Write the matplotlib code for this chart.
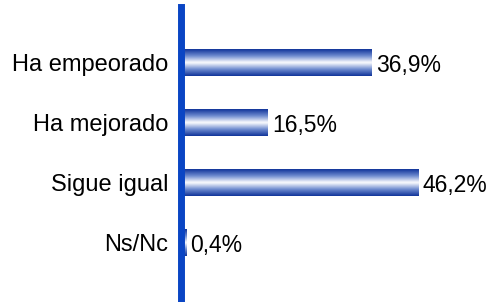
import numpy as np
import matplotlib.pyplot as plt
from matplotlib.colors import LinearSegmentedColormap

plt.rcParams['font.family'] = ['Liberation Sans', 'DejaVu Sans']

categories = ['Ha empeorado', 'Ha mejorado', 'Sigue igual', 'Ns/Nc']
values = [36.9, 16.5, 46.2, 0.4]
value_labels = ['36,9%', '16,5%', '46,2%', '0,4%']

fig = plt.figure(figsize=(4.86, 3.02), dpi=100)
left = 184 / 486
ax = fig.add_axes([left, 0, 1 - left, 1 - 7 / 302])

# left axis line sits a little outside the bars' origin
for s in ['top', 'right', 'bottom']:
    ax.spines[s].set_visible(False)
ax.spines['left'].set_position(('outward', 2.5))
ax.spines['left'].set_color('#0a45c4')
ax.spines['left'].set_linewidth(5)
ax.spines['left'].set_zorder(5)

cmap = LinearSegmentedColormap.from_list(
    'bar', ['#12359a', '#6f8cd0', '#ffffff', '#6f8cd0', '#12359a'])
grad = np.linspace(0, 1, 64).reshape(-1, 1)

ypos = np.arange(len(categories))
bars = ax.barh(ypos, values, height=0.45, color='none', edgecolor='none')
for bar, val, lab in zip(bars, values, value_labels):
    x0, y0 = bar.get_x(), bar.get_y()
    w, h = bar.get_width(), bar.get_height()
    im = ax.imshow(grad, cmap=cmap, aspect='auto', interpolation='bicubic',
                   extent=[x0, x0 + w, y0 + h, y0], zorder=2)
    im.set_clip_path(bar)
    ax.text(val + 0.9, y0 + h / 2 + 0.05, lab, va='center', ha='left', fontsize=16.5)

ax.set_xlim(0, (486 - 184) / 5.07)
ax.set_ylim(4.0, -0.917)
ax.set_yticks(ypos)
ax.set_yticklabels(categories, fontsize=17)
ax.tick_params(axis='y', length=0, pad=9)
ax.set_xticks([])

fig.savefig('out.png', dpi=100)
